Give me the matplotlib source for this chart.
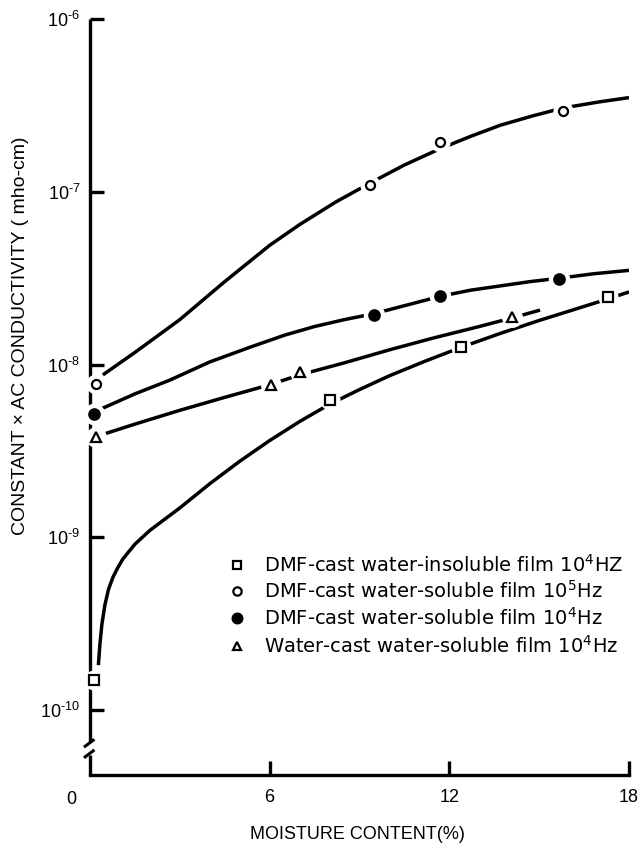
import numpy as np
import matplotlib.pyplot as plt

plt.rcParams['font.family'] = ['Liberation Sans', 'DejaVu Sans']
plt.rcParams['mathtext.fontset'] = 'custom'
plt.rcParams['mathtext.rm'] = 'Liberation Sans'
plt.rcParams['mathtext.default'] = 'regular'

# ---- measured points (moisture %, conductivity) ----
sq_x = [0.13, 8.0, 12.4, 17.3]
sq_y = [1.5e-10, 6.2e-9, 1.26e-8, 2.46e-8]

oc_x = [0.2, 9.35, 11.7, 15.8]
oc_y = [7.7e-9, 1.09e-7, 1.94e-7, 2.93e-7]

fc_x = [0.13, 9.5, 11.7, 15.66]
fc_y = [5.2e-9, 1.94e-8, 2.49e-8, 3.13e-8]

tr_x = [0.2, 6.05, 7.0, 14.1]
tr_y = [3.8e-9, 7.6e-9, 9.05e-9, 1.88e-8]

# ---- hand-drawn fit curves (log10 of conductivity) ----
sq_cx = [0.28, 0.33, 0.4, 0.5, 0.62, 0.77, 0.93, 1.1, 1.5, 2.0, 3.0, 4.0, 5.0, 6.0, 7.0, 8.0,
         9.0, 10.0, 11.2, 12.4, 13.7, 15.0, 16.2, 17.3, 18.0]
sq_cl = [-9.74, -9.62, -9.50, -9.39, -9.30, -9.23, -9.175, -9.125, -9.04, -8.96, -8.83, -8.69,
         -8.56, -8.44, -8.33, -8.23, -8.145, -8.065, -7.98, -7.90, -7.82, -7.745, -7.68, -7.62, -7.58]

oc_cx = [0.43, 1.5, 3.0, 4.5, 6.0, 7.0, 8.2, 9.35, 10.5, 11.7, 12.7, 13.7, 14.8, 15.8, 17.0, 18.0]
oc_cl = [-8.06, -7.93, -7.74, -7.52, -7.31, -7.19, -7.06, -6.95, -6.845, -6.75, -6.68,
         -6.615, -6.56, -6.515, -6.48, -6.455]

fc_cx = [0.33, 1.5, 2.67, 4.0, 5.34, 6.5, 7.5, 8.5, 9.5, 10.6, 11.7, 12.7, 13.7, 14.7, 15.7, 16.8, 18.0]
fc_cl = [-8.26, -8.17, -8.09, -7.985, -7.90, -7.83, -7.78, -7.74, -7.705, -7.655, -7.605,
         -7.57, -7.545, -7.52, -7.50, -7.475, -7.455]

tr_cx = [0.33, 1.5, 3.0, 4.5, 6.05, 7.0, 8.5, 10.0, 11.5, 13.0, 14.1, 15.03]
tr_cl = [-8.41, -8.345, -8.265, -8.19, -8.115, -8.06, -7.99, -7.915, -7.845, -7.78, -7.73, -7.685]

legend_labels = [
    'DMF-cast water-insoluble film 10$^4$HZ',
    'DMF-cast water-soluble film 10$^5$Hz',
    'DMF-cast water-soluble film 10$^4$Hz',
    'Water-cast water-soluble film 10$^4$Hz',
]
y_ticks = [1e-10, 1e-9, 1e-8, 1e-7, 1e-6]
y_ticklabels = ['10$^{\\text{-}10}$', '10$^{\\text{-}9}$', '10$^{\\text{-}8}$',
                '10$^{\\text{-}7}$', '10$^{\\text{-}6}$']
x_ticks = [6, 12, 18]

fig = plt.figure(figsize=(6.39, 8.47), dpi=100)
ax = fig.add_axes([90 / 639, 1 - 775 / 847, 539 / 639, 756 / 847])
ax.set_yscale('log')
ax.set_xlim(0, 18)
ax.set_ylim(10 ** -10.376, 1e-6)

lw = 2.5
for cx, cl in [(sq_cx, sq_cl), (oc_cx, oc_cl), (fc_cx, fc_cl), (tr_cx, tr_cl)]:
    ax.plot(cx, 10.0 ** np.array(cl), color='black', lw=lw, solid_capstyle='butt',
            solid_joinstyle='round', zorder=2)

styles = [
    (sq_x, sq_y, 's', 'white', 6.5),
    (oc_x, oc_y, 'o', 'white', 6.5),
    (fc_x, fc_y, 'o', 'black', 7.5),
    (tr_x, tr_y, '^', 'white', 7),
]
for x, y, m, fc, ms in styles:
    # white halo to break the line around each marker
    ax.plot(x, y, ls='none', marker='o', ms=ms + 7, mfc='white', mec='white', zorder=3, clip_on=False)
    ax.plot(x, y, ls='none', marker=m, ms=ms, mfc=fc, mec='black', mew=1.6, zorder=4, clip_on=False)

# axes look
for s in ['top', 'right', 'left']:
    ax.spines[s].set_visible(False)
ax.spines['bottom'].set_linewidth(2.4)
ax.spines['bottom'].set_bounds(0, 18)

# left spine with a break near the bottom
kw = dict(transform=ax.transAxes, color='black', lw=2.4, clip_on=False, solid_capstyle='butt')
ax.plot([0, 0], [0.0435, 1.0], **kw)
ax.plot([0, 0], [0.0, 0.026], **kw)
ax.plot([-0.009, 0.006], [0.038, 0.046], transform=ax.transAxes, color='black', lw=2.2, clip_on=False)
ax.plot([-0.009, 0.006], [0.024, 0.032], transform=ax.transAxes, color='black', lw=2.2, clip_on=False)

ax.set_yticks(y_ticks)
ax.set_yticklabels(y_ticklabels)
ax.yaxis.set_minor_locator(plt.NullLocator())
ax.set_xticks(x_ticks)
ax.set_xticklabels([str(t) for t in x_ticks])
ax.tick_params(axis='both', direction='in', length=10, width=2.4, labelsize=13)
ax.tick_params(axis='y', pad=7)
ax.tick_params(axis='x', pad=10)
ax.text(-0.45, -0.021, '0', transform=ax.get_xaxis_transform(), ha='right', va='top', fontsize=13)

fig.text(250 / 639, 1 - 834 / 847, 'MOISTURE CONTENT(%)', ha='left', va='center', fontsize=13)
fig.text(21 / 639, 1 - 336 / 847, 'CONSTANT × AC CONDUCTIVITY ( mho-cm)', rotation=90,
         ha='center', va='center', fontsize=14)

# legend drawn by hand
leg_markers = [('s', 'white', 6), ('o', 'white', 6), ('o', 'black', 7), ('^', 'white', 6)]
leg_base = [572, 598, 625, 653]
for (m, fc, ms), yb, lab in zip(leg_markers, leg_base, legend_labels):
    fig.lines.append(plt.Line2D([237 / 639], [1 - (yb - 7) / 847], transform=fig.transFigure,
                                ls='none', marker=m, ms=ms, mfc=fc, mec='black', mew=1.6))
    fig.text(264 / 639, 1 - yb / 847, lab, ha='left', va='baseline', fontsize=14,
             family='DejaVu Sans', math_fontfamily='dejavusans')

fig.savefig('out.png', dpi=100)
